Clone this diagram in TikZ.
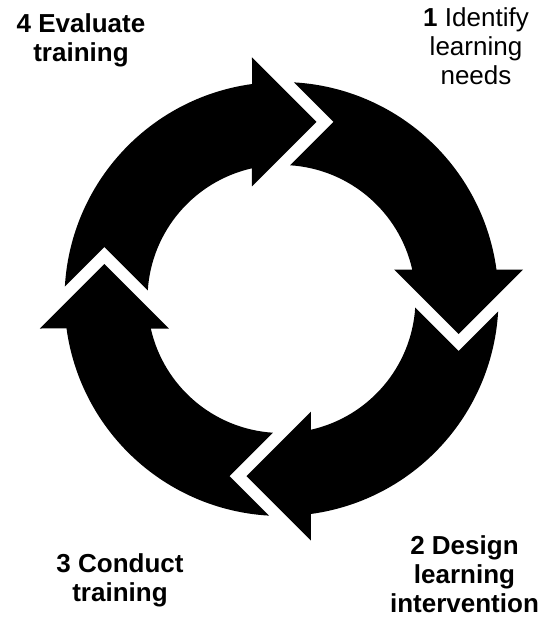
\documentclass[tikz,border=0pt]{standalone}
\usepackage{fontspec}
\setmainfont{Liberation Sans}
\usepackage{tikz}
\usetikzlibrary{positioning}
\definecolor{cycleink}{RGB}{0,0,0}
\tikzset{
  cyclefill/.style={fill=cycleink,draw=none},
  stagelab/.style={font=\fontsize{26}{29}\selectfont,align=center,
    inner sep=0pt,anchor=north,text=cycleink},
  boldlab/.style={stagelab,font=\fontsize{26}{29}\selectfont\bfseries}
}
% one curved arrow of the cycle, turned about the centre
\newcommand{\stagearrow}[1]{%
  \fill[cyclefill,rotate=#1]
    (-133.72,8.72) -- (-177,52) -- (-216.64,12.36)
    arc[start angle=176.73,end angle=97.81,radius=217pt]
    -- (-29.5,241.5) -- (35,177) -- (-29.5,112.5) -- (-29.5,130.71)
    arc[start angle=102.72,end angle=176.27,radius=134pt] -- cycle;}

\begin{document}
\begin{tikzpicture}[x=1pt,y=1pt]
  \useasboundingbox (-281.5,-325) rectangle (256.5,299);
  \stagearrow{0}
  \stagearrow{-90}
  \stagearrow{-180}
  \stagearrow{-270}
  \node[stagelab] (identify) at (194.5,292) {\textbf{1} Identify\\learning\\needs};
  \node[boldlab] (design) at (183,-236) {2 Design\\learning\\intervention};
  \node[boldlab] (conduct) at (-161.5,-254) {3 Conduct\\training};
  \node[boldlab] (evaluate) at (-200.5,286) {4 Evaluate\\training};
\end{tikzpicture}
\end{document}
